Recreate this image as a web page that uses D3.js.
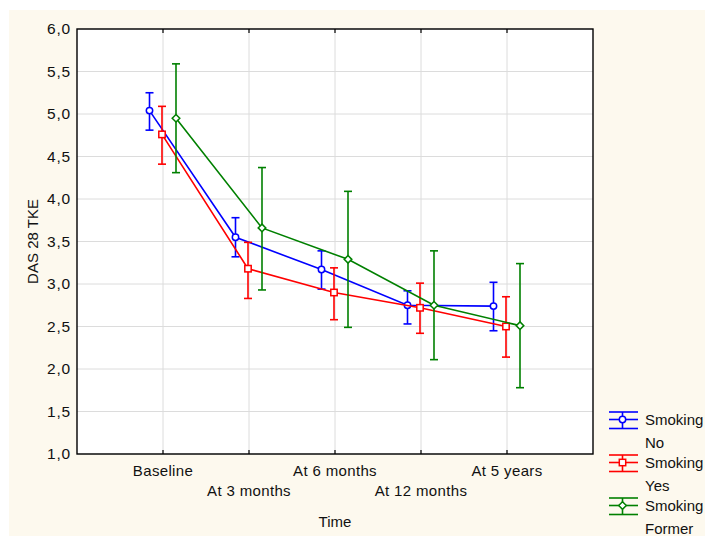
<!DOCTYPE html>
<html>
<head>
<meta charset="utf-8">
<script src="https://cdn.jsdelivr.net/npm/d3@7/dist/d3.min.js"></script>
<style>
  html, body { margin: 0; padding: 0; background: #ffffff; }
  svg { display: block; }
  text { font-family: "Liberation Sans", Arial, sans-serif; fill: #111111; }
</style>
</head>
<body>
<div id="chart"></div>
<script>
// Time points on the x axis
const timePoints = ["Baseline", "At 3 months", "At 6 months", "At 12 months", "At 5 years"];

// Smoking groups
const groups = ["No", "Yes", "Former"];
const groupColors = ["#0000ff", "#ff0000", "#008000"];
const groupMarkers = ["circle", "square", "diamond"];

// Mean DAS 28 TKE per time point, with lower / upper interval bounds
const meanNo     = [5.04, 3.55, 3.17, 2.75, 2.74];
const lowNo      = [4.81, 3.32, 2.94, 2.53, 2.45];
const highNo     = [5.25, 3.78, 3.39, 2.92, 3.02];

const meanYes    = [4.76, 3.18, 2.90, 2.72, 2.50];
const lowYes     = [4.41, 2.83, 2.58, 2.42, 2.14];
const highYes    = [5.09, 3.49, 3.19, 3.01, 2.85];

const meanFormer = [4.95, 3.66, 3.29, 2.75, 2.51];
const lowFormer  = [4.31, 2.93, 2.49, 2.11, 1.78];
const highFormer = [5.59, 4.37, 4.09, 3.39, 3.24];

const yTicks = [1.0, 1.5, 2.0, 2.5, 3.0, 3.5, 4.0, 4.5, 5.0, 5.5, 6.0];

const seriesData = [
  { mean: meanNo, low: lowNo, high: highNo },
  { mean: meanYes, low: lowYes, high: highYes },
  { mean: meanFormer, low: lowFormer, high: highFormer }
];

const W = 705, H = 536;
const plot = { left: 77, top: 29, right: 593, bottom: 454 };
const dodge = [-13.5, -1, 13];

const svg = d3.select("#chart").append("svg")
  .attr("width", W).attr("height", H);

// cream panel
svg.append("rect").attr("x", 9).attr("y", 10)
  .attr("width", W - 9).attr("height", H - 10)
  .attr("fill", "#fdf9ee");

// plot background
svg.append("rect")
  .attr("x", plot.left).attr("y", plot.top)
  .attr("width", plot.right - plot.left).attr("height", plot.bottom - plot.top)
  .attr("fill", "#ffffff");

const x = d3.scaleLinear().domain([0, timePoints.length + 1]).range([plot.left, plot.right]);
const y = d3.scaleLinear().domain([1, 6]).range([plot.bottom, plot.top]);
const fmt = v => d3.format(".1f")(v).replace(".", ",");

// grid
const grid = svg.append("g").attr("stroke", "#dcdcdc").attr("stroke-width", 1);
grid.selectAll("line.h").data(yTicks).join("line")
  .attr("x1", plot.left).attr("x2", plot.right)
  .attr("y1", d => y(d)).attr("y2", d => y(d));
grid.selectAll("line.v").data(timePoints).join("line")
  .attr("x1", (d, i) => x(i + 1)).attr("x2", (d, i) => x(i + 1))
  .attr("y1", plot.top).attr("y2", plot.bottom);

// y axis tick labels
const yAxis = d3.axisLeft(y).tickValues(yTicks).tickFormat(fmt).tickSize(0).tickPadding(6);
const gy = svg.append("g").attr("transform", `translate(${plot.left},0)`).call(yAxis);
gy.select(".domain").remove();
gy.selectAll("text").style("font-size", "15.5px").style("font-family", "Liberation Sans, Arial, sans-serif")
  .style("letter-spacing", "0.8px").attr("fill", "#111111");

// x axis tick marks (inside, bottom and top)
const ticks = svg.append("g").attr("stroke", "#000").attr("stroke-width", 1.2);
timePoints.forEach((t, i) => {
  ticks.append("line").attr("x1", x(i + 1)).attr("x2", x(i + 1))
    .attr("y1", plot.bottom).attr("y2", plot.bottom - 4);
  ticks.append("line").attr("x1", x(i + 1)).attr("x2", x(i + 1))
    .attr("y1", plot.top).attr("y2", plot.top + 4);
});

// x labels, staggered on two rows
svg.append("g").selectAll("text").data(timePoints).join("text")
  .attr("x", (d, i) => x(i + 1))
  .attr("y", (d, i) => i % 2 === 0 ? 475.5 : 496)
  .attr("text-anchor", "middle")
  .style("font-size", "15px")
  .style("letter-spacing", "0.35px")
  .text(d => d);

// axis titles
svg.append("text").attr("x", x(3)).attr("y", 526.5).attr("text-anchor", "middle")
  .style("font-size", "15px").text("Time");
svg.append("text").attr("transform", `translate(38,${(plot.top + plot.bottom) / 2}) rotate(-90)`)
  .attr("text-anchor", "middle").style("font-size", "15px").text("DAS 28 TKE");

// marker drawing
function drawMarker(g, kind, cx, cy, color) {
  if (kind === "circle") {
    g.append("circle").attr("cx", cx).attr("cy", cy).attr("r", 3.2)
      .attr("fill", "#fff").attr("stroke", color).attr("stroke-width", 1.5);
  } else if (kind === "square") {
    g.append("rect").attr("x", cx - 3.2).attr("y", cy - 3.2).attr("width", 6.4).attr("height", 6.4)
      .attr("fill", "#fff").attr("stroke", color).attr("stroke-width", 1.5);
  } else {
    const r = 3.8;
    g.append("path").attr("d", `M${cx},${cy - r}L${cx + r},${cy}L${cx},${cy + r}L${cx - r},${cy}Z`)
      .attr("fill", "#fff").attr("stroke", color).attr("stroke-width", 1.5);
  }
}

// series
const capHalf = 4;
seriesData.forEach((s, k) => {
  const color = groupColors[k];
  const g = svg.append("g");
  const xs = (i) => x(i + 1) + dodge[k];
  g.append("path")
    .datum(s.mean)
    .attr("fill", "none").attr("stroke", color).attr("stroke-width", 1.6)
    .attr("d", d3.line().x((d, i) => xs(i)).y(d => y(d)));
  s.mean.forEach((m, i) => {
    const cx = xs(i);
    const eb = g.append("g").attr("stroke", color).attr("stroke-width", 1.6);
    eb.append("line").attr("x1", cx).attr("x2", cx).attr("y1", y(s.low[i])).attr("y2", y(s.high[i]));
    eb.append("line").attr("x1", cx - capHalf).attr("x2", cx + capHalf).attr("y1", y(s.low[i])).attr("y2", y(s.low[i]));
    eb.append("line").attr("x1", cx - capHalf).attr("x2", cx + capHalf).attr("y1", y(s.high[i])).attr("y2", y(s.high[i]));
  });
  s.mean.forEach((m, i) => drawMarker(g, groupMarkers[k], xs(i), y(m), color));
});

// plot frame
svg.append("rect")
  .attr("x", plot.left).attr("y", plot.top)
  .attr("width", plot.right - plot.left).attr("height", plot.bottom - plot.top)
  .attr("fill", "none").attr("stroke", "#000").attr("stroke-width", 1.4);

// legend
const legend = svg.append("g");
groups.forEach((name, k) => {
  const cy = 419.5 + k * 43;
  const color = groupColors[k];
  const lg = legend.append("g").attr("stroke", color).attr("stroke-width", 1.6);
  [-7.5, 0, 9].forEach(dy => {
    lg.append("line").attr("x1", 609).attr("x2", 638).attr("y1", cy + dy).attr("y2", cy + dy);
  });
  lg.append("line").attr("x1", 622.5).attr("x2", 622.5).attr("y1", cy - 7.5).attr("y2", cy + 9);
  drawMarker(legend, groupMarkers[k], 622.5, cy, color);
  legend.append("text").attr("x", 645).attr("y", cy + 5).style("font-size", "15px").text("Smoking");
  legend.append("text").attr("x", 645).attr("y", cy + 28).style("font-size", "15px").text(name);
});
</script>
</body>
</html>
